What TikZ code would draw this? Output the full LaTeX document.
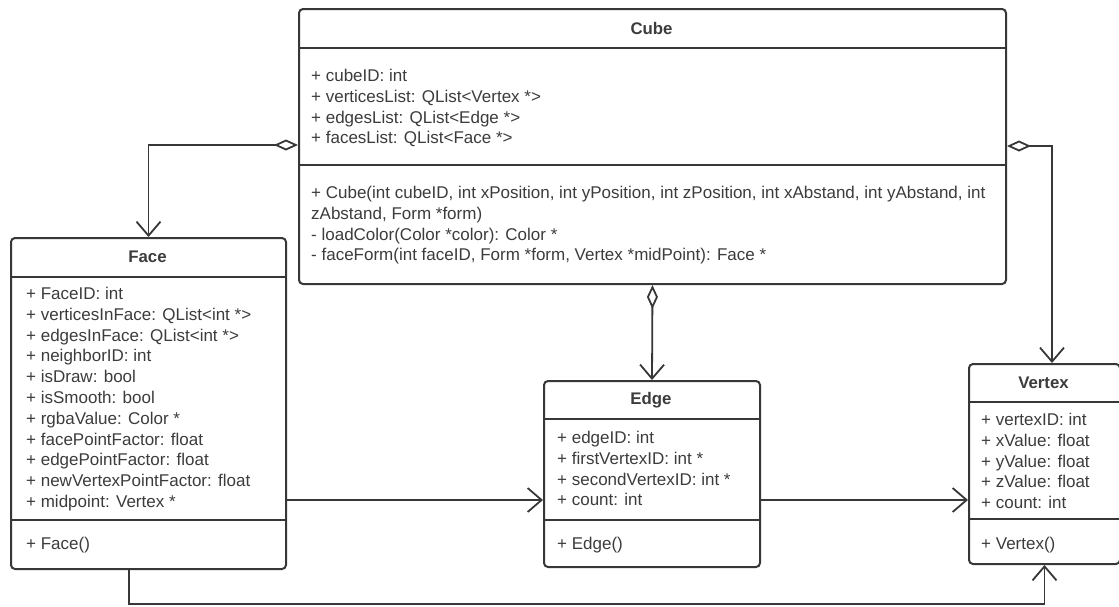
\documentclass[tikz,border=0pt]{standalone}
\usepackage{fontspec}
\setmainfont{Liberation Sans}
\usetikzlibrary{arrows.meta}

\definecolor{umlline}{RGB}{55,55,55}
\definecolor{umltext}{RGB}{60,60,60}

\tikzset{
  classbox/.style={draw=umlline, line width=2pt, rounded corners=4pt, fill=white, anchor=north west, inner sep=0pt},
  divider/.style={draw=umlline, line width=2pt},
  classtitle/.style={text=umltext, font=\fontsize{16.8}{20.8}\selectfont\bfseries, inner sep=0pt},
  members/.style={text=umltext, font=\fontsize{17}{20.8}\selectfont, align=left, anchor=north west, inner sep=0pt},
  assoc/.style={draw=umlline, line width=1.8pt, -{Straight Barb[length=14pt,width=24pt]}},
  aggr/.style={draw=umlline, line width=1.8pt, {Diamond[open,length=24pt,width=11pt]}-{Straight Barb[length=14pt,width=24pt]}}
}

\begin{document}
\begin{tikzpicture}[x=1pt, y=-1pt]
  \useasboundingbox (0,0) rectangle (1119,606);

  % Cube
  \node[classbox, minimum width=707, minimum height=275] (cube) at (298,8) {};
  \draw[divider] (cube.west |- 0,48) -- (cube.east |- 0,48);
  \draw[divider] (cube.west |- 0,165) -- (cube.east |- 0,165);
  \node[classtitle] (cubetitle) at (651.5,28) {Cube};
  \node[members] (cubeattr) at (311,69) {+ cubeID: int\\+ verticesList: QList<Vertex *>\\+ edgesList: QList<Edge *>\\+ facesList: QList<Face *>};
  \node[members] (cubeops) at (311,186) {+ Cube(int cubeID, int xPosition, int yPosition, int zPosition, int xAbstand, int yAbstand, int\\zAbstand, Form *form)\\- loadColor(Color *color): Color *\\- faceForm(int faceID, Form *form, Vertex *midPoint): Face *};

  % Face
  \node[classbox, minimum width=275, minimum height=331] (face) at (10,237) {};
  \draw[divider] (face.west |- 0,277) -- (face.east |- 0,277);
  \draw[divider] (face.west |- 0,520) -- (face.east |- 0,520);
  \node[classtitle] (facetitle) at (147.5,257) {Face};
  \node[members] (faceattr) at (26,287) {+ FaceID: int\\+ verticesInFace: QList<int *>\\+ edgesInFace: QList<int *>\\+ neighborID: int\\+ isDraw: bool\\+ isSmooth: bool\\+ rgbaValue: Color *\\+ facePointFactor: float\\+ edgePointFactor: float\\+ newVertexPointFactor: float\\+ midpoint: Vertex *};
  \node[members] (faceops) at (26,537) {+ Face()};

  % Edge
  \node[classbox, minimum width=216, minimum height=186] (edge) at (543,380) {};
  \draw[divider] (edge.west |- 0,419) -- (edge.east |- 0,419);
  \draw[divider] (edge.west |- 0,520) -- (edge.east |- 0,520);
  \node[classtitle] (edgetitle) at (651,400) {Edge};
  \node[members] (edgeattr) at (557,431) {+ edgeID: int\\+ firstVertexID: int *\\+ secondVertexID: int *\\+ count: int};
  \node[members] (edgeops) at (557,537) {+ Edge()};

  % Vertex
  \node[classbox, minimum width=151, minimum height=200] (vertex) at (968,363) {};
  \draw[divider] (vertex.west |- 0,402) -- (vertex.east |- 0,402);
  \draw[divider] (vertex.west |- 0,519) -- (vertex.east |- 0,519);
  \node[classtitle] (vertextitle) at (1043.5,383) {Vertex};
  \node[members] (vertexattr) at (981,413) {+ vertexID: int\\+ xValue: float\\+ yValue: float\\+ zValue: float\\+ count: int};
  \node[members] (vertexops) at (981,537) {+ Vertex()};

  % Aggregations
  \coordinate (vtop) at ([xshift=84pt]vertex.north west);
  \draw[aggr] (cube.west |- 0,145) -| (face.north);
  \draw[aggr] (cube.east |- 0,146) -| (vtop);
  \draw[aggr] (cube.south) -- (edge.north);

  % Associations
  \draw[assoc] (face.east |- 0,500) -- (edge.west |- 0,500);
  \draw[assoc] (edge.east |- 0,500) -- (vertex.west |- 0,500);
  \coordinate (fbot) at ([xshift=119pt]face.south west);
  \draw[assoc] (fbot) -- (fbot |- 0,604) -| (vertex.south);
\end{tikzpicture}
\end{document}
